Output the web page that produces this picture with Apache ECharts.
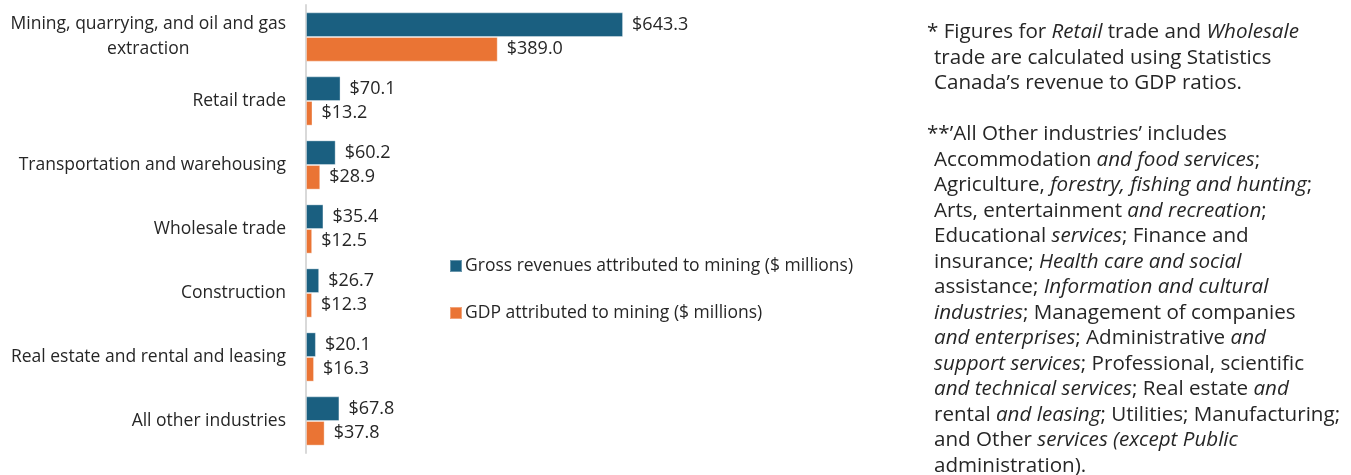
<!DOCTYPE html>
<html>
<head>
<meta charset="utf-8">
<script src="https://cdn.jsdelivr.net/npm/echarts@6/dist/echarts.min.js"></script>
<style>
  html, body { margin: 0; padding: 0; background: #fff; }
  #chart { width: 1351px; height: 475px; }
</style>
</head>
<body>
<div id="chart"></div>
<script>
// Industries, top to bottom
const categories = [
  'Mining, quarrying, and oil and gas extraction',
  'Retail trade',
  'Transportation and warehousing',
  'Wholesale trade',
  'Construction',
  'Real estate and rental and leasing',
  'All other industries'
];
// $ millions
const grossRevenues = [643.3, 70.1, 60.2, 35.4, 26.7, 20.1, 67.8];
const gdpValues = [389.0, 13.2, 28.9, 12.5, 12.3, 16.3, 37.8];
const seriesNames = [
  'Gross revenues attributed to mining ($ millions)',
  'GDP attributed to mining ($ millions)'
];

// Footnotes: each line is a list of [text, italic] runs
const noteLines = [
  [['* Figures for ', 0], ['Retail', 1], [' trade and ', 0], ['Wholesale', 1]],
  [['trade are calculated using Statistics', 0]],
  [['Canada\u2019s revenue to GDP ratios.', 0]],
  [],
  [['**\u2019All Other industries\u2019 includes', 0]],
  [['Accommodation', 0], [' and food services', 1], [';', 0]],
  [['Agriculture, ', 0], ['forestry, fishing and hunting', 1], [';', 0]],
  [['Arts, entertainment', 0], [' and recreation', 1], [';', 0]],
  [['Educational', 0], [' services', 1], ['; Finance and', 0]],
  [['insurance; ', 0], ['Health care and social', 1]],
  [['assistance; ', 0], ['Information and cultural', 1]],
  [['industries', 1], ['; Management of companies', 0]],
  [['and enterprises', 1], ['; Administrative ', 0], ['and', 1]],
  [['support services', 1], ['; Professional, scientific', 0]],
  [['and technical services', 1], ['; Real estate ', 0], ['and', 1]],
  [['rental ', 0], ['and leasing', 1], ['; Utilities; Manufacturing;', 0]],
  [['and Other ', 0], ['services (except Public', 1]],
  [['administration).', 0]]
];

const FONT = '"Open Sans", "Noto Sans", sans-serif';
const TEXT = '#262626';
const BLUE = '#1a5f80';
const ORANGE = '#ea7434';
const NOTE_SIZE = 20.6;
const LABEL_SIZE = 17.5;
const VALUE_SIZE = 18;

const noteGraphics = noteLines.map(function (runs, i) {
  const txt = runs.map(function (r) {
    return '{' + (r[1] ? 'i' : 'n') + '|' + r[0] + '}';
  }).join('');
  const indentFirst = (i === 0 || i === 4);
  return {
    type: 'text',
    left: indentFirst ? 927 : 934,
    top: 22 + i * 25.5,
    style: {
      text: txt,
      font: NOTE_SIZE + 'px ' + FONT,
      fill: TEXT,
      rich: {
        n: { fontSize: NOTE_SIZE, fontFamily: FONT, fontStyle: 'normal', fill: TEXT },
        i: { fontSize: NOTE_SIZE, fontFamily: FONT, fontStyle: 'italic', fill: TEXT }
      }
    }
  };
});

const chart = echarts.init(document.getElementById('chart'), null, { renderer: 'canvas' });

const barLabel = {
  show: true,
  position: 'right',
  distance: 9,
  fontFamily: FONT,
  fontSize: VALUE_SIZE,
  color: TEXT,
  formatter: function (p) { return '$' + p.value.toFixed(1); }
};

chart.setOption({
  animation: false,
  backgroundColor: '#ffffff',
  textStyle: { fontFamily: FONT },
  grid: { left: 306, top: 5, width: 345, height: 448, containLabel: false },
  legend: {
    orient: 'vertical',
    left: 444,
    top: 252,
    itemWidth: 12,
    itemHeight: 12,
    itemGap: 29,
    icon: 'rect',
    textStyle: { fontFamily: FONT, fontSize: LABEL_SIZE, color: TEXT, padding: [0, 0, 0, -2] },
    data: seriesNames
  },
  xAxis: {
    type: 'value',
    min: 0,
    max: 700,
    show: false
  },
  yAxis: {
    type: 'category',
    inverse: true,
    data: categories,
    axisLine: { show: true, lineStyle: { color: '#d9d9d9', width: 2 } },
    axisTick: { show: false },
    axisLabel: {
      margin: 20,
      fontFamily: FONT,
      fontSize: LABEL_SIZE,
      color: TEXT,
      lineHeight: 25,
      formatter: function (v) {
        if (v.indexOf('Mining') === 0) {
          return '{c|Mining, quarrying, and oil and gas}\n{c|extraction}';
        }
        return '{r|' + v + '}';
      },
      rich: {
        c: { align: 'center', fontFamily: FONT, fontSize: LABEL_SIZE, color: TEXT, lineHeight: 25 },
        r: { fontFamily: FONT, fontSize: LABEL_SIZE, color: TEXT }
      }
    }
  },
  series: [
    {
      name: seriesNames[0],
      type: 'bar',
      data: grossRevenues,
      barGap: '0%',
      barCategoryGap: '23%',
      itemStyle: { color: BLUE, borderColor: 'rgba(255,255,255,0.35)', borderWidth: 1 },
      label: barLabel
    },
    {
      name: seriesNames[1],
      type: 'bar',
      data: gdpValues,
      barGap: '0%',
      barCategoryGap: '23%',
      itemStyle: { color: ORANGE, borderColor: 'rgba(255,255,255,0.35)', borderWidth: 1 },
      label: barLabel
    }
  ],
  graphic: noteGraphics
});
</script>
</body>
</html>
